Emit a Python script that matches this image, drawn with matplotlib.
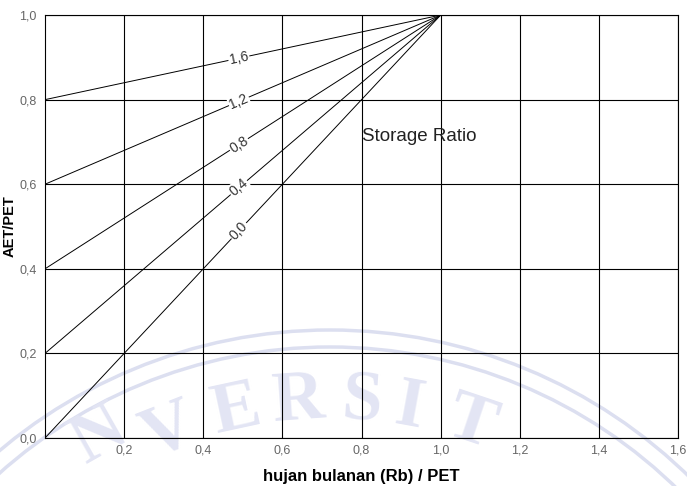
import numpy as np
import matplotlib.pyplot as plt
from matplotlib.patches import Circle

plt.rcParams['font.family'] = ['Liberation Sans', 'DejaVu Sans']

# storage ratio curves: start at (0, y0) and meet at (1, 1)
ratio_labels = ['1,6', '1,2', '0,8', '0,4', '0,0']
y_start = [0.8, 0.6, 0.4, 0.2, 0.0]
x_pts = [0.0, 1.0]
label_x = 0.49

x_ticks = [0.2, 0.4, 0.6, 0.8, 1.0, 1.2, 1.4, 1.6]
x_ticklabels = ['0,2', '0,4', '0,6', '0,8', '1,0', '1,2', '1,4', '1,6']
y_ticks = [0.0, 0.2, 0.4, 0.6, 0.8, 1.0]
y_ticklabels = ['0,0', '0,2', '0,4', '0,6', '0,8', '1,0']

# faint watermark (university seal) behind the chart, pixel coordinates
wm_letters = ['N', 'V', 'E', 'R', 'S', 'I', 'T']
wm_angles = [-29.5, -21.4, -12.2, -4.1, 4.1, 10.3, 18.6]
wm_radius = [468, 442, 442, 442, 442, 442, 442]
wm_center = (330, 843)

fig = plt.figure(figsize=(6.87, 4.86), dpi=100)

bg = fig.add_axes([0, 0, 1, 1], zorder=0)
bg.set_xlim(0, 687)
bg.set_ylim(486, 0)
bg.axis('off')
for r in [513, 496]:
    bg.add_patch(Circle(wm_center, r, fill=False, edgecolor='#dcdff0', linewidth=2.5))
for ch, a, rr in zip(wm_letters, wm_angles, wm_radius):
    t = np.radians(a)
    px = wm_center[0] + rr * np.sin(t)
    py = wm_center[1] - rr * np.cos(t)
    bg.text(px, py, ch, rotation=-a, rotation_mode='anchor', ha='center', va='center',
            fontsize=52, fontweight='bold', family='Liberation Serif', color='#e3e5f4')

ax = fig.add_axes([0.0655, 0.0988, 0.9215, 0.8702], zorder=1)
ax.set_facecolor('none')
ax.set_xlim(0, 1.6)
ax.set_ylim(0, 1.0)

ax.set_xticks(x_ticks)
ax.set_xticklabels(x_ticklabels)
ax.set_yticks(y_ticks)
ax.set_yticklabels(y_ticklabels)
ax.tick_params(length=0, labelsize=9, labelcolor='#666666')
ax.tick_params(axis='x', pad=5)
ax.tick_params(axis='y', pad=6)
ax.grid(True, color='black', linewidth=0.8)
for s in ax.spines.values():
    s.set_linewidth(0.8)

for y0, lab in zip(y_start, ratio_labels):
    ax.plot(x_pts, [y0, 1.0], color='black', linewidth=0.7)
    ly = y0 + (1.0 - y0) * label_x
    p1 = ax.transData.transform((0, y0))
    p2 = ax.transData.transform((1, 1))
    ang = np.degrees(np.arctan2(p2[1] - p1[1], p2[0] - p1[0]))
    ax.text(label_x, ly, lab, rotation=ang, rotation_mode='anchor',
            ha='center', va='center', fontsize=10, color='#333333',
            bbox=dict(facecolor='white', edgecolor='none', pad=0.8), zorder=4)

ax.text(0.80, 0.712, 'Storage Ratio', fontsize=13.5, color='#222222',
        ha='left', va='center', zorder=4)

ax.set_xlabel('hujan bulanan (Rb) / PET', fontsize=12, fontweight='bold', labelpad=9)
ax.set_ylabel('AET/PET', fontsize=10.5, fontweight='bold', labelpad=2)

fig.savefig('out.png', dpi=100)
